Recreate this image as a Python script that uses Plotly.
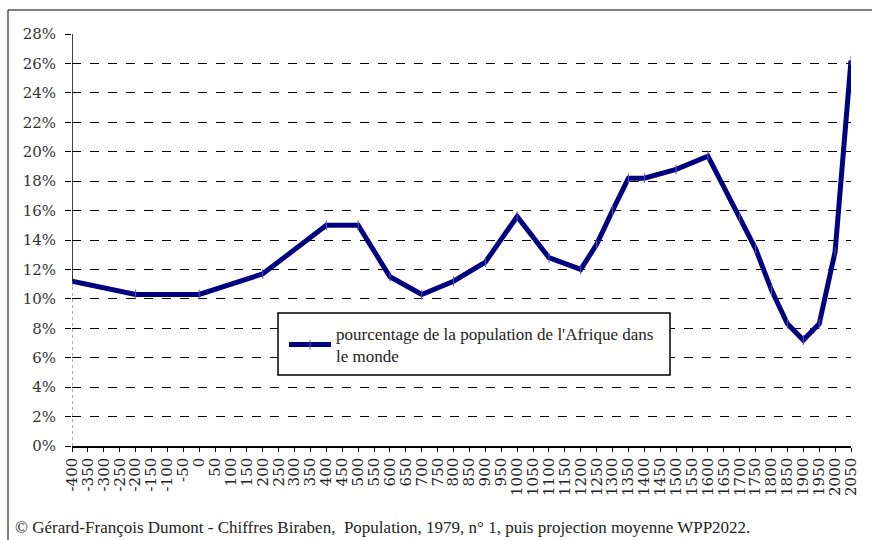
import plotly.graph_objects as go

# Data
years = [-400, -200, 0, 200, 400, 500, 600, 700, 800, 900, 1000, 1100, 1200,
         1250, 1300, 1350, 1400, 1500, 1600, 1700, 1750, 1800, 1850, 1900,
         1950, 2000, 2050]
pct = [11.2, 10.3, 10.3, 11.7, 15.0, 15.0, 11.5, 10.3, 11.2, 12.5, 15.6, 12.8,
       12.0, 13.7, 16.0, 18.2, 18.2, 18.8, 19.7, 15.5, 13.4, 10.6, 8.3, 7.2,
       8.3, 13.2, 26.2]
series_name = "pourcentage de la population de l'Afrique dans<br>le monde"
x_ticks = list(range(-400, 2051, 50))
y_ticks = list(range(0, 29, 2))
footer = ("© Gérard-François Dumont - Chiffres Biraben,  Population, 1979, n° 1, "
          "puis projection moyenne WPP2022.")

W, H = 872, 540
L, R, T, B = 72, 21, 34, 94
pw, ph = W - L - R, H - T - B


def px_x(p):
    return (p - L) / pw


def px_y(p):
    return (H - B - p) / ph


NAVY = "#000080"
TIMES = "Liberation Serif"
WIDE = "DejaVu Serif"

fig = go.Figure()
fig.add_trace(go.Scatter(
    x=years, y=pct, mode="lines+markers", name=series_name,
    line=dict(color=NAVY, width=5),
    marker=dict(symbol="line-ns", size=7, color=NAVY,
                line=dict(color="#5a5ab0", width=1)),
))

fig.update_layout(
    width=W, height=H,
    margin=dict(l=L, r=R, t=T, b=B, autoexpand=False),
    paper_bgcolor="white", plot_bgcolor="white",
    font=dict(family=TIMES, color="black"),
    showlegend=True,
    legend=dict(x=px_x(284), y=px_y(316), xanchor="left", yanchor="top",
                bgcolor="rgba(0,0,0,0)", borderwidth=0, itemwidth=42,
                font=dict(family=TIMES, size=17, color="#222"),
                tracegroupgap=0),
    xaxis=dict(range=[x_ticks[0], x_ticks[-1]], tickmode="array",
               tickvals=x_ticks, ticktext=[str(v) for v in x_ticks],
               tickangle=-90, showgrid=False, zeroline=False, automargin=False,
               showline=True, linecolor="black", linewidth=1.5,
               ticks="outside", ticklen=4, tickcolor="black", tickwidth=1,
               tickfont=dict(family=WIDE, size=15, color="#222")),
    yaxis=dict(range=[0, 28], tickmode="array", tickvals=y_ticks,
               ticktext=[f"{v}%" for v in y_ticks], automargin=False,
               showgrid=True, gridcolor="black", gridwidth=1, griddash="dash",
               zeroline=False, showline=False,
               ticks="outside", ticklen=6, tickcolor="black",
               ticklabelstandoff=6,
               tickfont=dict(family=WIDE, size=15, color="#333")),
    shapes=[
        dict(type="line", xref="x", yref="y", x0=years[0], x1=years[0],
             y0=pct[0], y1=28, line=dict(color="black", width=1.5)),
        dict(type="line", xref="x", yref="y", x0=years[0], x1=years[0],
             y0=0, y1=pct[0], line=dict(color="#666", width=1, dash="dot")),
        dict(type="rect", xref="paper", yref="paper",
             x0=px_x(278), x1=px_x(670), y0=px_y(375), y1=px_y(313),
             fillcolor="white", line=dict(color="black", width=1.5),
             layer="above"),
        dict(type="rect", xref="paper", yref="paper",
             x0=px_x(8), x1=px_x(900), y0=px_y(560), y1=px_y(10),
             line=dict(color="black", width=1), layer="above"),
    ],
    annotations=[
        dict(text=footer, xref="paper", yref="paper", x=px_x(13), y=px_y(527),
             xanchor="left", yanchor="middle", showarrow=False,
             font=dict(family=TIMES, size=17, color="#222")),
    ],
)

fig.write_html("out.html", config={"displayModeBar": False},
               post_script="document.body.style.margin='0';document.body.style.padding='0';")
